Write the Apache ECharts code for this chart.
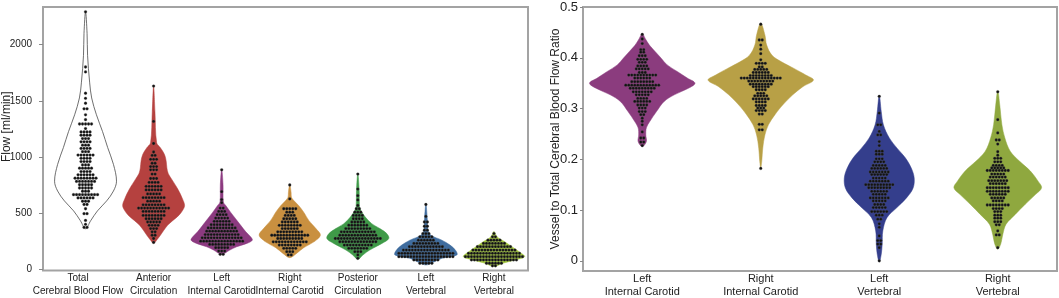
<!DOCTYPE html>
<html>
<head>
<meta charset="utf-8">
<script src="https://cdn.jsdelivr.net/npm/echarts@6/dist/echarts.min.js"></script>
<style>
html, body { margin: 0; padding: 0; background: #fff; }
#chart { width: 1059px; height: 298px; }
</style>
</head>
<body>
<div id="chart"></div>
<script>
var flowCategories = ["Total\nCerebral Blood Flow", "Anterior\nCirculation", "Left\nInternal Carotid", "Right\nInternal Carotid", "Posterior\nCirculation", "Left\nVertebral", "Right\nVertebral"];
var ratioCategories = ["Left\nInternal Carotid", "Right\nInternal Carotid", "Left\nVertebral", "Right\nVertebral"];
var flowTicks = [0, 500, 1000, 1500, 2000];
var ratioTicks = [0, 0.1, 0.2, 0.3, 0.4, 0.5];

// violin outlines: [value, half width as share of half a category band]
var totalShape = [[2292, 0], [2100, 0.045], [1904, 0.06], [1665, 0.12], [1524, 0.18], [1374, 0.32], [1224, 0.5], [1082, 0.65], [932, 0.82], [782, 0.91], [694, 0.82], [606, 0.62], [517, 0.35], [429, 0.15], [358, 0]];
var anteriorShape = [[1634, 0], [1400, 0.04], [1124, 0.09], [1080, 0.2], [1020, 0.32], [960, 0.37], [900, 0.39], [850, 0.43], [800, 0.53], [712, 0.71], [624, 0.85], [565, 0.91], [520, 0.85], [477, 0.74], [430, 0.56], [388, 0.41], [340, 0.29], [300, 0.2], [260, 0.1], [228, 0]];
var leftICShape = [[889, 0], [750, 0.04], [597, 0.05], [565, 0.12], [506, 0.26], [447, 0.41], [388, 0.56], [330, 0.71], [286, 0.85], [256, 0.9], [227, 0.74], [197, 0.44], [168, 0.24], [130, 0]];
var rightICShape = [[752, 0], [680, 0.04], [639, 0.05], [609, 0.12], [565, 0.26], [506, 0.41], [432, 0.56], [359, 0.77], [300, 0.9], [241, 0.71], [189, 0.41], [138, 0.2], [100, 0]];
var posteriorShape = [[849, 0], [700, 0.04], [551, 0.05], [521, 0.09], [462, 0.22], [403, 0.41], [359, 0.65], [315, 0.85], [271, 0.91], [227, 0.71], [168, 0.35], [124, 0.15], [86, 0]];
var leftVertShape = [[578, 0], [450, 0.04], [345, 0.06], [300, 0.15], [256, 0.47], [212, 0.71], [162, 0.88], [124, 0.91], [94, 0.47], [56, 0.2], [35, 0]];
var rightVertShape = [[334, 0], [286, 0.09], [241, 0.32], [197, 0.53], [153, 0.74], [109, 0.9], [80, 0.62], [50, 0.26], [21, 0]];

var ratioLeftICShape = [[0.448, 0], [0.438, 0.05], [0.425, 0.12], [0.412, 0.22], [0.399, 0.32], [0.386, 0.42], [0.373, 0.59], [0.360, 0.76], [0.350, 0.89], [0.340, 0.78], [0.327, 0.54], [0.314, 0.37], [0.294, 0.24], [0.275, 0.13], [0.262, 0.07], [0.248, 0.06], [0.235, 0.07], [0.225, 0]];
var ratioRightICShape = [[0.468, 0], [0.445, 0.07], [0.425, 0.1], [0.405, 0.19], [0.392, 0.35], [0.379, 0.56], [0.366, 0.76], [0.356, 0.89], [0.343, 0.71], [0.327, 0.54], [0.307, 0.37], [0.288, 0.24], [0.268, 0.13], [0.248, 0.07], [0.222, 0.034], [0.196, 0.017], [0.183, 0]];
var ratioLeftVertShape = [[0.326, 0], [0.294, 0.034], [0.268, 0.07], [0.242, 0.17], [0.222, 0.3], [0.203, 0.44], [0.183, 0.54], [0.163, 0.59], [0.143, 0.57], [0.124, 0.46], [0.104, 0.29], [0.085, 0.13], [0.059, 0.06], [0.033, 0.05], [0.013, 0.034], [-0.002, 0]];
var ratioRightVertShape = [[0.335, 0], [0.307, 0.034], [0.268, 0.07], [0.242, 0.12], [0.216, 0.21], [0.196, 0.37], [0.177, 0.55], [0.157, 0.68], [0.144, 0.74], [0.131, 0.64], [0.111, 0.46], [0.092, 0.3], [0.072, 0.14], [0.052, 0.085], [0.033, 0.05], [0.023, 0]];

// dot rows: [value, dots in the row]
var totalDots = [[2292, 1], [1800, 1], [1756, 1], [1566, 1], [1521, 1], [1477, 1], [1427, 2], [1374, 1], [1330, 1], [1292, 5], [1251, 1], [1221, 4], [1192, 4], [1162, 3], [1133, 4], [1103, 3], [1074, 4], [1045, 3], [1015, 6], [986, 4], [957, 4], [927, 3], [898, 5], [868, 4], [839, 6], [809, 8], [780, 7], [750, 5], [721, 5], [692, 3], [662, 9], [633, 6], [603, 3], [574, 2], [536, 1], [492, 2], [432, 1], [397, 1], [370, 2]];
var anteriorDots = [[1630, 1], [1315, 1], [1118, 1], [1042, 1], [1012, 2], [977, 3], [942, 2], [912, 3], [883, 3], [845, 2], [806, 3], [771, 4], [736, 6], [704, 6], [668, 5], [635, 8], [604, 5], [571, 8], [542, 11], [512, 8], [477, 8], [447, 6], [418, 5], [388, 4], [359, 3], [330, 2], [300, 2], [271, 1], [236, 1]];
var leftICDots = [[883, 1], [688, 1], [618, 1], [590, 1], [542, 2], [512, 3], [483, 4], [453, 5], [424, 6], [394, 8], [365, 10], [336, 11], [306, 12], [277, 14], [247, 15], [218, 9], [189, 5], [159, 3], [130, 2]];
var rightICDots = [[748, 1], [624, 1], [536, 5], [506, 3], [477, 4], [447, 5], [418, 6], [388, 8], [359, 6], [330, 9], [300, 13], [271, 9], [241, 12], [212, 8], [183, 5], [153, 3], [124, 2]];
var posteriorDots = [[845, 1], [712, 1], [653, 1], [615, 1], [565, 1], [536, 2], [506, 3], [477, 4], [447, 4], [418, 5], [389, 7], [359, 9], [330, 12], [300, 13], [271, 16], [242, 13], [212, 10], [183, 7], [153, 3], [124, 1], [94, 1]];
var leftVertDots = [[574, 1], [468, 1], [418, 2], [380, 2], [345, 2], [315, 3], [286, 5], [256, 6], [227, 9], [198, 12], [168, 16], [139, 19], [109, 19], [80, 9], [50, 5]];
var rightVertDots = [[315, 1], [286, 2], [256, 5], [227, 8], [198, 12], [168, 15], [139, 18], [109, 20], [80, 16], [50, 6], [27, 2]];

var ratioLeftICDots = [[0.446, 1], [0.437, 1], [0.428, 1], [0.416, 2], [0.411, 2], [0.404, 3], [0.397, 4], [0.391, 3], [0.384, 4], [0.378, 5], [0.371, 3], [0.366, 10], [0.360, 6], [0.353, 8], [0.346, 12], [0.340, 9], [0.333, 7], [0.327, 5], [0.320, 4], [0.314, 6], [0.307, 4], [0.301, 3], [0.294, 3], [0.288, 2], [0.281, 1], [0.275, 1], [0.268, 1], [0.254, 1], [0.242, 2], [0.234, 2], [0.227, 1]];
var ratioRightICDots = [[0.466, 1], [0.435, 2], [0.425, 1], [0.417, 1], [0.408, 1], [0.396, 1], [0.389, 4], [0.382, 2], [0.377, 5], [0.371, 6], [0.365, 8], [0.360, 14], [0.354, 9], [0.348, 8], [0.343, 6], [0.337, 4], [0.330, 3], [0.325, 5], [0.319, 6], [0.313, 4], [0.306, 4], [0.301, 3], [0.296, 4], [0.289, 2], [0.269, 2], [0.258, 2], [0.182, 1]];
var ratioLeftVertDots = [[0.324, 1], [0.291, 1], [0.268, 2], [0.255, 1], [0.248, 2], [0.235, 1], [0.227, 1], [0.216, 3], [0.210, 3], [0.201, 3], [0.195, 4], [0.188, 5], [0.182, 6], [0.175, 7], [0.170, 6], [0.163, 5], [0.157, 7], [0.150, 10], [0.144, 8], [0.137, 6], [0.131, 5], [0.124, 7], [0.118, 5], [0.111, 4], [0.105, 5], [0.097, 6], [0.090, 3], [0.082, 2], [0.073, 1], [0.066, 1], [0.049, 1], [0.040, 2], [0.033, 2], [0.026, 1], [0.000, 1]];
var ratioRightVertDots = [[0.333, 1], [0.278, 1], [0.252, 1], [0.238, 2], [0.230, 1], [0.215, 1], [0.208, 1], [0.202, 3], [0.195, 3], [0.188, 4], [0.183, 5], [0.178, 8], [0.171, 5], [0.165, 6], [0.158, 7], [0.152, 6], [0.144, 8], [0.137, 8], [0.131, 6], [0.124, 5], [0.118, 4], [0.110, 8], [0.103, 4], [0.097, 3], [0.090, 3], [0.084, 3], [0.077, 3], [0.071, 2], [0.059, 1], [0.051, 2], [0.026, 1]];

var flowShapes = [totalShape, anteriorShape, leftICShape, rightICShape, posteriorShape, leftVertShape, rightVertShape];
var flowDots = [totalDots, anteriorDots, leftICDots, rightICDots, posteriorDots, leftVertDots, rightVertDots];
var ratioShapes = [ratioLeftICShape, ratioRightICShape, ratioLeftVertShape, ratioRightVertShape];
var ratioDots = [ratioLeftICDots, ratioRightICDots, ratioLeftVertDots, ratioRightVertDots];

var flowColors = ["#ffffff", "#b5413f", "#8c3a80", "#c99040", "#3f9a48", "#3f6c9e", "#a2c63c"];
var ratioColors = ["#8b3c7e", "#b8a046", "#343e8c", "#8fa83f"];

var FONT = "Liberation Sans, Arial, sans-serif";
var chart = echarts.init(document.getElementById("chart"), null, { renderer: "canvas" });

function violinSeries(shapes, colors, xi, yi) {
    var data = [];
    for (var i = 0; i < shapes.length; i++) data.push([i, 0]);
    return {
        type: "custom",
        xAxisIndex: xi,
        yAxisIndex: yi,
        clip: false,
        silent: true,
        data: data,
        renderItem: function (params, api) {
            var i = params.dataIndex;
            var cat = api.value(0);
            var half = api.size([1, 0])[0] / 2;
            var left = [], right = [];
            shapes[i].forEach(function (p) {
                var c = api.coord([cat, p[0]]);
                left.push([c[0] - p[1] * half, c[1]]);
                if (p[1] > 0) right.unshift([c[0] + p[1] * half, c[1]]);
            });
            var white = colors[i] === "#ffffff";
            return {
                type: "polygon",
                shape: { points: left.concat(right), smooth: 0.35 },
                style: {
                    fill: colors[i],
                    stroke: white ? "#4a4a4a" : colors[i],
                    lineWidth: white ? 0.8 : 0.5
                }
            };
        }
    };
}

function dotSeries(rows, xi, yi) {
    var data = [];
    rows.forEach(function (list, cat) {
        list.forEach(function (r) { data.push([cat, r[0], r[1]]); });
    });
    return {
        type: "custom",
        xAxisIndex: xi,
        yAxisIndex: yi,
        clip: false,
        silent: true,
        data: data,
        renderItem: function (params, api) {
            var c = api.coord([api.value(0), api.value(1)]);
            var n = api.value(2);
            var kids = [];
            for (var k = 0; k < n; k++) {
                kids.push({
                    type: "circle",
                    shape: { cx: c[0] + (k - (n - 1) / 2) * 3, cy: c[1], r: 1.4 },
                    style: { fill: "#121212", stroke: "#555", lineWidth: 0.3 }
                });
            }
            return { type: "group", children: kids };
        }
    };
}

var option = {
    animation: false,
    grid: [
        { left: 43, right: 531, top: 7, bottom: 27.5, show: true, borderColor: "#a3a3a3", borderWidth: 2, backgroundColor: "transparent" },
        { left: 51.5, right: 531, top: 7, bottom: 27.5 },
        { left: 583, right: 2, top: 7, bottom: 26, show: true, borderColor: "#a3a3a3", borderWidth: 2, backgroundColor: "transparent" }
    ],
    xAxis: [
        { gridIndex: 0, type: "value", show: false },
        {
            gridIndex: 1, type: "category", data: flowCategories,
            axisLine: { show: false }, axisTick: { show: false },
            axisLabel: {
                margin: 2, interval: 0, fontSize: 10, color: "#222", lineHeight: 13, fontFamily: FONT,
                formatter: function (v, i) {
                    if (i === 0) return v.split("\n").map(function (s) { return "{f|" + s + "}"; }).join("\n");
                    return v;
                },
                rich: { f: { fontSize: 10, color: "#222", lineHeight: 13, fontFamily: FONT, padding: [0, 15, 0, 0] } }
            }
        },
        {
            gridIndex: 2, type: "category", data: ratioCategories,
            axisLine: { show: false }, axisTick: { show: false },
            axisLabel: { margin: 1, interval: 0, fontSize: 11, color: "#222", lineHeight: 13, fontFamily: FONT }
        }
    ],
    yAxis: [
        {
            gridIndex: 0, type: "value", min: -10, max: 2335,
            axisLine: { show: false },
            axisTick: { show: true, length: 4, customValues: flowTicks, lineStyle: { color: "#888" } },
            axisLabel: {
                customValues: flowTicks, fontSize: 10, color: "#222", margin: 11, fontFamily: FONT,
                formatter: function (v) { return String(v); }
            },
            splitLine: { show: false },
            name: "Flow [ml/min]", nameLocation: "middle", nameGap: 30, nameMoveOverlap: false,
            nameTextStyle: { fontSize: 12, color: "#222", fontFamily: FONT, padding: [0, 0, 0, 24] }
        },
        { gridIndex: 1, type: "value", min: -10, max: 2335, show: false, splitLine: { show: false } },
        {
            gridIndex: 2, type: "value", min: -0.02, max: 0.5,
            axisLine: { show: false },
            axisTick: { show: true, length: 3, customValues: ratioTicks, lineStyle: { color: "#888" } },
            axisLabel: { customValues: ratioTicks, fontSize: 13, color: "#222", margin: 5, fontFamily: FONT },
            splitLine: { show: false },
            name: "Vessel to Total Cerebral Blood Flow Ratio", nameLocation: "middle", nameGap: 21, nameMoveOverlap: false,
            nameTextStyle: { fontSize: 12, color: "#222", fontFamily: FONT }
        }
    ],
    series: [
        violinSeries(flowShapes, flowColors, 1, 1),
        dotSeries(flowDots, 1, 1),
        violinSeries(ratioShapes, ratioColors, 2, 2),
        dotSeries(ratioDots, 2, 2)
    ]
};
chart.setOption(option);
</script>
</body>
</html>
